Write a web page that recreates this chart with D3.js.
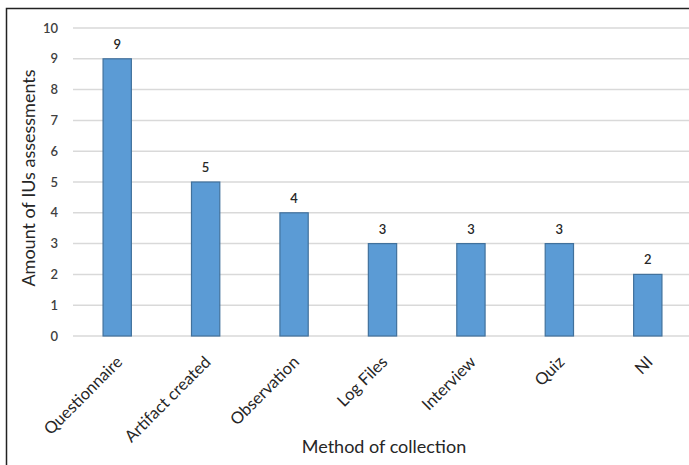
<!DOCTYPE html>
<html><head><meta charset="utf-8">
<script src="https://cdn.jsdelivr.net/npm/d3@7"></script>
<style>body{margin:0;background:#fff}svg{display:block}text{font-family:Lato,"Open Sans",sans-serif}</style>
</head><body>
<script>
const categories = ["Questionnaire","Artifact created","Observation","Log Files","Interview","Quiz","NI"];
const values = [9,5,4,3,3,3,2];
const yTicks = [0,1,2,3,4,5,6,7,8,9,10];

const W = 689, H = 465;
const svg = d3.select("body").append("svg").attr("width", W).attr("height", H);
svg.append("rect").attr("width", W).attr("height", H).attr("fill", "#fff");
// frame
svg.append("path").attr("d", `M6.5,${H} V8.5 H${W}`).attr("fill","none").attr("stroke","#222").attr("stroke-width",1.5);

const x = d3.scaleBand().domain(categories).range([73, 692]).paddingInner(0.68).paddingOuter(0.34);
const y = d3.scaleLinear().domain([0,10]).range([336, 28]);

// grid
svg.append("g").selectAll("line").data(yTicks).join("line")
  .attr("x1", 73).attr("x2", W).attr("y1", d => y(d)).attr("y2", d => y(d))
  .attr("stroke", "#d9d9d9").attr("stroke-width", 1.5);

// y axis labels
const yAxis = d3.axisLeft(y).tickValues(yTicks).tickSize(0).tickPadding(0);
const gy = svg.append("g").attr("transform", "translate(58,0)").call(yAxis);
gy.select(".domain").remove();
gy.selectAll("text").attr("font-size", 13).attr("fill", "#404040").attr("font-weight", 600);

// bars
svg.append("g").selectAll("rect").data(values).join("rect")
  .attr("x", (d,i) => x(categories[i]))
  .attr("y", d => y(d))
  .attr("width", x.bandwidth())
  .attr("height", d => y(0) - y(d))
  .attr("fill", "#5b9bd5").attr("stroke", "#41719c").attr("stroke-width", 1.2);

// data labels
svg.append("g").selectAll("text").data(values).join("text")
  .attr("x", (d,i) => x(categories[i]) + x.bandwidth()/2)
  .attr("y", d => y(d) - 10)
  .attr("text-anchor", "middle").attr("font-size", 13).attr("font-weight", 600).attr("fill", "#262626")
  .text(d => d);

// x axis labels
const xAxis = d3.axisBottom(x).tickSize(0).tickPadding(0);
const gx = svg.append("g").attr("transform", `translate(0,${y(0)})`).call(xAxis);
gx.select(".domain").remove();
gx.selectAll("text")
  .attr("font-size", 16.5).attr("fill", "#262626")
  .attr("text-anchor", "end").attr("dy", "0.35em")
  .attr("transform", "translate(2,23) rotate(-45)");

// axis titles
svg.append("text").attr("x", 384).attr("y", 453).attr("text-anchor", "middle")
  .attr("font-size", 18).attr("fill", "#262626").text("Method of collection");
svg.append("text").attr("transform", "translate(35,178) rotate(-90)").attr("text-anchor", "middle")
  .attr("font-size", 18).attr("fill", "#262626").text("Amount of IUs assessments");
</script>
</body></html>
